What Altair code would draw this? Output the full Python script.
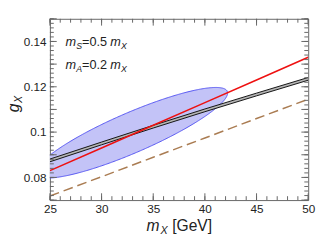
import altair as alt
import numpy as np
import pandas as pd

# ---- data ----
MASS = [25, 30, 35, 40, 45, 50]
RED_LINE = [0.083, 0.093, 0.103, 0.113, 0.123, 0.133]
BAND_LOW = [0.0869, 0.0944, 0.1018, 0.1090, 0.1160, 0.1229]
BAND_HIGH = [0.0881, 0.0956, 0.1030, 0.1102, 0.1172, 0.1241]
DASHED_LINE = [0.0718, 0.0803, 0.0889, 0.0974, 0.1060, 0.1145]

ELLIPSE_CENTER_X = 32.9
ELLIPSE_CENTER_Y = 0.0997
ELLIPSE_RX = 9.3
ELLIPSE_RY = 0.0200
ELLIPSE_TILT = 0.50

X_DOMAIN = [25, 50]
Y_DOMAIN = [0.07, 0.15]
X_LABEL_TICKS = [25, 30, 35, 40, 45, 50]
Y_LABEL_TICKS = [0.08, 0.10, 0.12, 0.14]

X_MAJOR = list(range(25, 51, 5))
X_MINOR = list(range(25, 51, 1))
Y_MAJOR = [round(0.07 + 0.01 * i, 3) for i in range(9)]
Y_MINOR = [round(0.07 + 0.002 * i, 3) for i in range(41)]

W, H = 265, 186
FONT = "Liberation Sans"
FRAME = "#666666"
TXT = "#222222"

xs = alt.Scale(domain=X_DOMAIN, nice=False, zero=False)
ys = alt.Scale(domain=Y_DOMAIN, nice=False, zero=False)

lines_df = pd.DataFrame({"m": MASS, "red": RED_LINE, "lo": BAND_LOW,
                         "hi": BAND_HIGH, "dash": DASHED_LINE})

t = np.linspace(0, np.pi, 241)
ell_df = pd.DataFrame({
    "m": ELLIPSE_CENTER_X + ELLIPSE_RX * np.cos(t),
    "lo": ELLIPSE_CENTER_Y + ELLIPSE_RY * np.cos(t + ELLIPSE_TILT),
    "hi": ELLIPSE_CENTER_Y + ELLIPSE_RY * np.cos(t - ELLIPSE_TILT),
})

X = alt.X("m:Q", scale=xs, axis=None)

ellipse = alt.Chart(ell_df).mark_area(
    fill="#c3c3f7", stroke="#5555f2", strokeWidth=1, clip=True
).encode(x=X, y=alt.Y("lo:Q", scale=ys, axis=None), y2="hi:Q")

dashed = alt.Chart(lines_df).mark_line(
    color="#aa7c52", strokeWidth=1.5, strokeDash=[10, 5], clip=True
).encode(x=X, y=alt.Y("dash:Q", scale=ys, axis=None))

band = alt.Chart(lines_df).mark_area(
    fill="#b5b5b5", interpolate="monotone", clip=True
).encode(x=X, y=alt.Y("lo:Q", scale=ys, axis=None), y2="hi:Q")

band_lo = alt.Chart(lines_df).mark_line(
    color="#111111", strokeWidth=1, interpolate="monotone", clip=True
).encode(x=X, y=alt.Y("lo:Q", scale=ys, axis=None))

band_hi = alt.Chart(lines_df).mark_line(
    color="#111111", strokeWidth=1, interpolate="monotone", clip=True
).encode(x=X, y=alt.Y("hi:Q", scale=ys, axis=None))

red = alt.Chart(lines_df).mark_line(
    color="#ee1111", strokeWidth=1.6, clip=True
).encode(x=X, y=alt.Y("red:Q", scale=ys, axis=None))

# ---- axis labels ----
dummy = pd.DataFrame({"m": [30], "g": [0.1]})
common = dict(domain=False, grid=False, title=None, ticks=False, tickSize=0,
              labelPadding=4, labelFontSize=12, labelFont=FONT,
              labelColor=TXT, labelOverlap=False)
labels = alt.Chart(dummy).mark_point(opacity=0).encode(
    x=alt.X("m:Q", scale=xs, axis=alt.Axis(orient="bottom", values=X_LABEL_TICKS,
                                           labelFlush=False, **common)),
    y=alt.Y("g:Q", scale=ys, axis=alt.Axis(orient="left", values=Y_LABEL_TICKS,
                                           format=".2~f", **common)),
)


# ---- inward ticks on all four sides ----
def xticks(values, size):
    d = pd.DataFrame({"v": values})
    base = alt.Chart(d).mark_rule(color=FRAME, strokeWidth=1)
    xe = alt.X("v:Q", scale=xs, axis=None)
    return [
        base.encode(x=xe, y=alt.value(H), y2=alt.value(H - size)),
        base.encode(x=xe, y=alt.value(0), y2=alt.value(size)),
    ]


def yticks(values, size):
    d = pd.DataFrame({"v": values})
    base = alt.Chart(d).mark_rule(color=FRAME, strokeWidth=1)
    ye = alt.Y("v:Q", scale=ys, axis=None)
    return [
        base.encode(y=ye, x=alt.value(0), x2=alt.value(size)),
        base.encode(y=ye, x=alt.value(W), x2=alt.value(W - size)),
    ]


ticks = xticks(X_MAJOR, 7) + xticks(X_MINOR, 4) + yticks(Y_MAJOR, 7) + yticks(Y_MINOR, 4)

# ---- text (titles and annotations with subscripts) ----
one = pd.DataFrame({"k": [0]})


def txt(s, x, y, size, italic=False, angle=0):
    return alt.Chart(one).mark_text(
        text=s, fontSize=size, font=FONT, color=TXT, align="left",
        baseline="alphabetic", angle=angle,
        fontStyle="italic" if italic else "normal",
    ).encode(x=alt.value(x), y=alt.value(y))


texts = [
    # x title  m_X [GeV]
    txt("m", 99, 217.5, 16, True),
    txt("X", 113.5, 221, 11, True),
    txt("[GeV]", 125.5, 217.5, 16),
    # y title  g_X (rotated)
    txt("g", -32, 96, 16, True, 270),
    txt("X", -28.5, 86.5, 11, True, 270),
    # annotation 1: m_S=0.5 m_X
    txt("m", 16, 28.3, 13, True),
    txt("S", 27, 31.3, 9, True),
    txt("=0.5", 33, 28.3, 13),
    txt("m", 62, 28.3, 13, True),
    txt("X", 73, 31.3, 9, True),
    # annotation 2: m_A=0.2 m_X
    txt("m", 16, 51.7, 13, True),
    txt("A", 27, 54.7, 9, True),
    txt("=0.2", 33, 51.7, 13),
    txt("m", 62, 51.7, 13, True),
    txt("X", 73, 54.7, 9, True),
]

chart = alt.layer(
    labels, ellipse, dashed, band, band_lo, band_hi, red, *ticks, *texts
).resolve_axis(
    x="independent", y="independent"
).properties(
    width=W, height=H, autosize="none",
    padding={"left": 43, "top": 8, "right": 8, "bottom": 43},
).configure_view(stroke=FRAME, strokeWidth=1)

chart.save("out.html", embed_options={"renderer": "svg", "actions": False})
